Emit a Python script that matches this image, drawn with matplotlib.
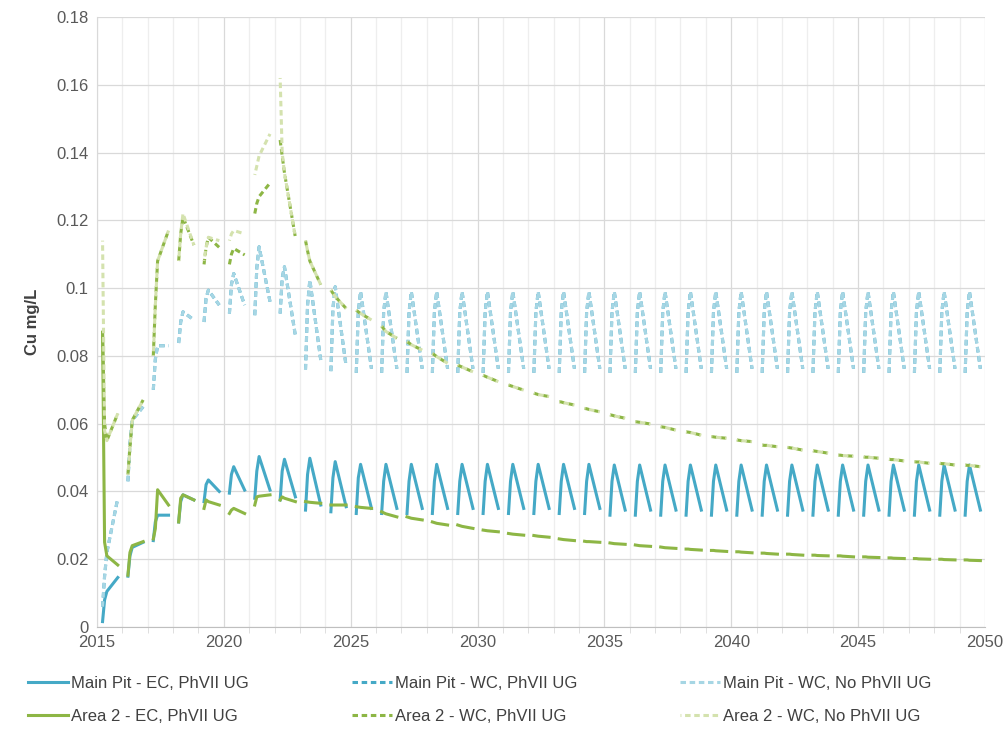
import numpy as np
import matplotlib.pyplot as plt
from matplotlib.ticker import MultipleLocator

plt.rcParams['font.family'] = ['Liberation Sans', 'DejaVu Sans']

# one run of readings per year (each year the model runs from ~0.22 to ~0.82 of the year, then a gap)
years = list(range(2015, 2050))
seg_frac = [0.22, 0.30, 0.39, 0.82]  # where the four readings fall inside each yearly run

# Main Pit - EC, PhVII UG
mp_ec_start = [0.0016, 0.015, 0.0255, 0.031, 0.037, 0.0395, 0.038, 0.0375, 0.0345, 0.034,
               0.0335, 0.0335, 0.0335, 0.0335, 0.0335, 0.0335, 0.0335, 0.0335, 0.0335, 0.0335,
               0.033, 0.033, 0.033, 0.033, 0.033, 0.033, 0.033, 0.033, 0.033, 0.033,
               0.033, 0.033, 0.033, 0.033, 0.033]
mp_ec_rise = [0.008, 0.021, 0.031, 0.037, 0.042, 0.045, 0.046, 0.046, 0.045, 0.044,
              0.044, 0.043, 0.043, 0.043, 0.043, 0.043, 0.043, 0.043, 0.043, 0.043,
              0.043, 0.043, 0.043, 0.043, 0.043, 0.043, 0.043, 0.043, 0.043, 0.043,
              0.043, 0.043, 0.043, 0.043, 0.043]
mp_ec_peak = [0.0105, 0.0235, 0.033, 0.039, 0.0434, 0.0473, 0.0503, 0.0495, 0.0498, 0.0488,
              0.048, 0.048, 0.048, 0.048, 0.048, 0.048, 0.048, 0.048, 0.048, 0.048,
              0.0478, 0.0478, 0.0478, 0.0478, 0.0478, 0.0478, 0.0478, 0.0478, 0.0478, 0.0478,
              0.0478, 0.0478, 0.0478, 0.0478, 0.0478]
mp_ec_end = [0.0146, 0.025, 0.033, 0.0375, 0.040, 0.0404, 0.0404, 0.0384, 0.036, 0.0355,
             0.035, 0.035, 0.035, 0.035, 0.035, 0.035, 0.035, 0.035, 0.035, 0.035,
             0.0345, 0.0345, 0.0345, 0.0345, 0.0345, 0.0345, 0.0345, 0.0345, 0.0345, 0.0345,
             0.0345, 0.0345, 0.0345, 0.0345, 0.0345]

# Main Pit - WC (PhVII UG and No PhVII UG lie on top of each other)
mp_wc_start = [0.006, 0.043, 0.070, 0.0838, 0.090, 0.0925, 0.092, 0.0925, 0.076, 0.0755,
               0.075, 0.075, 0.075, 0.075, 0.075, 0.075, 0.075, 0.075, 0.075, 0.075,
               0.075, 0.075, 0.075, 0.075, 0.075, 0.075, 0.075, 0.075, 0.075, 0.075,
               0.075, 0.075, 0.075, 0.075, 0.075]
mp_wc_rise = [0.015, 0.054, 0.079, 0.090, 0.097, 0.101, 0.106, 0.103, 0.095, 0.094,
              0.093, 0.093, 0.093, 0.093, 0.093, 0.093, 0.093, 0.093, 0.093, 0.093,
              0.093, 0.093, 0.093, 0.093, 0.093, 0.093, 0.093, 0.093, 0.093, 0.093,
              0.093, 0.093, 0.093, 0.093, 0.093]
mp_wc_peak = [0.022, 0.061, 0.083, 0.093, 0.0994, 0.1043, 0.1122, 0.1063, 0.1024, 0.1004,
              0.099, 0.099, 0.099, 0.099, 0.099, 0.099, 0.099, 0.099, 0.099, 0.099,
              0.099, 0.099, 0.099, 0.099, 0.099, 0.099, 0.099, 0.099, 0.099, 0.099,
              0.099, 0.099, 0.099, 0.099, 0.099]
mp_wc_end = [0.038, 0.065, 0.083, 0.0906, 0.095, 0.095, 0.096, 0.086, 0.0788, 0.077,
             0.0762, 0.0762, 0.0762, 0.0762, 0.0762, 0.0762, 0.0762, 0.0762, 0.0762, 0.0762,
             0.0762, 0.0762, 0.0762, 0.0762, 0.0762, 0.0762, 0.0762, 0.0762, 0.0762, 0.0762,
             0.0762, 0.0762, 0.0762, 0.0762, 0.0762]

# Area 2 - EC, PhVII UG
a2_ec_start = [0.087, 0.0153, 0.026, 0.031, 0.035, 0.0335, 0.036, 0.0375, 0.037, 0.036,
               0.0355, 0.034, 0.0325, 0.031, 0.0301, 0.0286, 0.0276, 0.027, 0.026, 0.0253,
               0.0248, 0.0242, 0.0236, 0.023, 0.0226, 0.0222, 0.0218, 0.0215, 0.0212, 0.021,
               0.0207, 0.0204, 0.0202, 0.020, 0.0198]
a2_ec_rise = [0.025, 0.022, 0.029, 0.038, 0.0375, 0.0345, 0.0384, 0.0384, 0.0369, 0.036,
              0.0354, 0.0337, 0.0323, 0.0308, 0.0299, 0.0285, 0.0275, 0.0269, 0.0259, 0.0252,
              0.0247, 0.0241, 0.0235, 0.023, 0.0226, 0.0222, 0.0218, 0.0215, 0.0212, 0.021,
              0.0207, 0.0204, 0.0202, 0.020, 0.0198]
a2_ec_peak = [0.021, 0.024, 0.0405, 0.039, 0.037, 0.035, 0.0386, 0.038, 0.0368, 0.036,
              0.0353, 0.0334, 0.0321, 0.0306, 0.0297, 0.0284, 0.0274, 0.0268, 0.0258, 0.0252,
              0.0246, 0.024, 0.0234, 0.0229, 0.0225, 0.0221, 0.0217, 0.0214, 0.0211, 0.0209,
              0.0206, 0.0203, 0.0201, 0.0199, 0.0197]
a2_ec_end = [0.0183, 0.0252, 0.036, 0.0375, 0.036, 0.0335, 0.039, 0.037, 0.0365, 0.036,
             0.035, 0.0325, 0.0316, 0.0301, 0.0291, 0.0281, 0.0271, 0.0265, 0.0255, 0.025,
             0.0244, 0.0238, 0.0232, 0.0227, 0.0223, 0.0219, 0.0215, 0.0212, 0.021, 0.0207,
             0.0205, 0.0202, 0.020, 0.0198, 0.0196]

# Area 2 - WC, PhVII UG
a2_wc_start = [0.087, 0.045, 0.080, 0.108, 0.107, 0.107, 0.122, 0.1437, 0.114, 0.0994,
               0.0935, 0.0888, 0.0842, 0.0807, 0.0773, 0.0743, 0.0714, 0.069, 0.0665, 0.0645,
               0.0626, 0.0606, 0.0591, 0.0576, 0.0562, 0.0552, 0.0537, 0.053, 0.052, 0.0507,
               0.0502, 0.0495, 0.0488, 0.0483, 0.0478]
a2_wc_rise = [0.060, 0.053, 0.095, 0.116, 0.112, 0.110, 0.125, 0.139, 0.111, 0.0985,
              0.093, 0.088, 0.0838, 0.0803, 0.077, 0.074, 0.0712, 0.0688, 0.0664, 0.0644,
              0.0625, 0.0605, 0.059, 0.0575, 0.0561, 0.0551, 0.0536, 0.0529, 0.0519, 0.0507,
              0.0501, 0.0494, 0.0487, 0.0482, 0.0477]
a2_wc_peak = [0.055, 0.061, 0.108, 0.121, 0.115, 0.1117, 0.127, 0.134, 0.108, 0.0975,
              0.0925, 0.0872, 0.0833, 0.0798, 0.0767, 0.0737, 0.071, 0.0686, 0.0662, 0.0642,
              0.0623, 0.0604, 0.0589, 0.0574, 0.056, 0.055, 0.0536, 0.0528, 0.0518, 0.0506,
              0.0501, 0.0494, 0.0487, 0.0482, 0.0477]
a2_wc_end = [0.063, 0.067, 0.117, 0.1127, 0.112, 0.1098, 0.131, 0.115, 0.101, 0.094,
             0.0906, 0.0852, 0.0817, 0.0778, 0.0753, 0.0724, 0.0699, 0.068, 0.0655, 0.0635,
             0.0616, 0.0599, 0.0581, 0.0566, 0.0557, 0.0547, 0.0532, 0.0522, 0.0513, 0.0504,
             0.0498, 0.049, 0.0483, 0.0478, 0.0473]

# Area 2 - WC, No PhVII UG: differs up to 2022, follows the PhVII case afterwards
a2_wcno_start = [0.114, 0.045, 0.080, 0.108, 0.108, 0.114, 0.1334, 0.162] + a2_wc_start[8:]
a2_wcno_rise = [0.058, 0.053, 0.095, 0.116, 0.112, 0.116, 0.136, 0.140] + a2_wc_rise[8:]
a2_wcno_peak = [0.055, 0.061, 0.108, 0.122, 0.115, 0.117, 0.139, 0.134] + a2_wc_peak[8:]
a2_wcno_end = [0.063, 0.067, 0.117, 0.1127, 0.114, 0.116, 0.1455, 0.115] + a2_wc_end[8:]

labels = ['Main Pit - EC, PhVII UG', 'Main Pit - WC, PhVII UG', 'Main Pit - WC, No PhVII UG',
          'Area 2 - EC, PhVII UG', 'Area 2 - WC, PhVII UG', 'Area 2 - WC, No PhVII UG']
y_ticks = [0, 0.02, 0.04, 0.06, 0.08, 0.1, 0.12, 0.14, 0.16, 0.18]
y_ticklabels = ['0', '0.02', '0.04', '0.06', '0.08', '0.1', '0.12', '0.14', '0.16', '0.18']


def build_line(cols):
    # join the yearly runs into one line, NaN between runs leaves the gaps
    t, v = [], []
    for i, yr in enumerate(years):
        for f, col in zip(seg_frac, cols):
            t.append(yr + f)
            v.append(col[i])
        t.append(np.nan)
        v.append(np.nan)
    return np.array(t), np.array(v)


# colour, line style, dash offset (light Area 2 line shifted so the darker one shows through)
series = [
    ((mp_ec_start, mp_ec_rise, mp_ec_peak, mp_ec_end), '#45A9C6', '-', 0),
    ((mp_wc_start, mp_wc_rise, mp_wc_peak, mp_wc_end), '#45A9C6', '--', 0),
    ((mp_wc_start, mp_wc_rise, mp_wc_peak, mp_wc_end), '#A6D6E4', '--', 0),
    ((a2_ec_start, a2_ec_rise, a2_ec_peak, a2_ec_end), '#8DB645', '-', 0),
    ((a2_wc_start, a2_wc_rise, a2_wc_peak, a2_wc_end), '#8DB645', '--', 0),
    ((a2_wcno_start, a2_wcno_rise, a2_wcno_peak, a2_wcno_end), '#D4E2AE', '--', 1.5),
]

fig = plt.figure(figsize=(10.07, 7.29), dpi=100)
ax = fig.add_axes([0.0963, 0.1399, 0.8818, 0.8368])

handles = []
for (cols, color, ls, offset), label in zip(series, labels):
    t, v = build_line(cols)
    if ls == '--':
        line, = ax.plot(t, v, color=color, lw=2.2, linestyle=(offset, (1.8, 1.2)), label=label)
    else:
        line, = ax.plot(t, v, color=color, lw=2.2, label=label)
    handles.append(line)

ax.set_xlim(2015, 2050)
ax.set_ylim(0, 0.18)
ax.xaxis.set_major_locator(MultipleLocator(5))
ax.xaxis.set_minor_locator(MultipleLocator(1))
ax.set_yticks(y_ticks)
ax.set_yticklabels(y_ticklabels)
ax.grid(which='major', color='#D9D9D9', lw=0.9)
ax.grid(which='minor', axis='x', color='#EEEEEE', lw=0.9)
ax.set_axisbelow(True)
for s in ['top', 'right']:
    ax.spines[s].set_visible(False)
ax.spines['left'].set_color('#D9D9D9')
ax.spines['bottom'].set_color('#BFBFBF')
ax.tick_params(axis='both', which='both', length=0, labelsize=12, colors='#595959', pad=6)
ax.tick_params(axis='x', which='minor', length=4, color='#D9D9D9')
ax.set_ylabel('Cu mg/L', fontsize=12, fontweight='bold', color='#404040', labelpad=12)

# three legend columns, two rows each
col_x = [28, 352, 680]
for k in range(3):
    fig.legend([handles[k], handles[k + 3]], [labels[k], labels[k + 3]],
               loc='upper left', bbox_to_anchor=(col_x[k] / 1007, 1 - 676 / 729),
               frameon=False, fontsize=12, handlelength=2.4, handletextpad=0.2,
               labelspacing=1.1, borderpad=0, borderaxespad=0, labelcolor='#404040')

fig.savefig('out.png', dpi=100)
